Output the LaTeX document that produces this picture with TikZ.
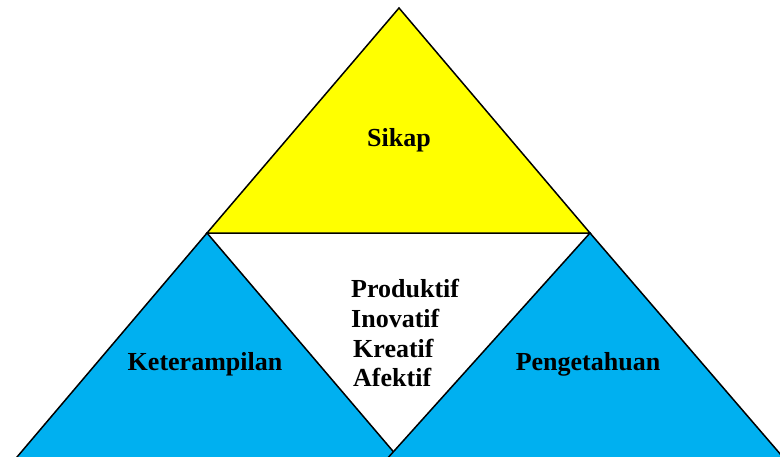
\documentclass[tikz,border=0pt]{standalone}
\usepackage{fontspec}
\setmainfont{Liberation Serif}
\definecolor{skyb}{HTML}{00B0F0}
\definecolor{yel}{HTML}{FFFF00}
\begin{document}
\begin{tikzpicture}[x=1pt,y=-1pt,
  tri/.style={draw=black,line width=1.5pt,line join=miter},
  lbl/.style={font=\fontsize{26}{30}\selectfont\bfseries,inner sep=0pt}]
\useasboundingbox (0,0) rectangle (780,456);
\clip (0,0) rectangle (780,456);
\coordinate (yt) at (399,8);
\coordinate (yl) at (207,233);
\coordinate (yr) at (590,233);
\coordinate (ll) at (6,470);
\coordinate (lr) at (409,470);
\coordinate (rl) at (377,470);
\coordinate (rr) at (794,470);
\fill[white] (0,0) rectangle (780,456);
\draw[tri,fill=skyb] (yl) -- (ll) -- (lr) -- cycle;
\draw[tri,fill=skyb] (yr) -- (rl) -- (rr) -- cycle;
\draw[tri,fill=yel] (yt) -- (yl) -- (yr) -- cycle;
\node[lbl,anchor=base] (sikap) at (399,146) {Sikap};
\node[lbl,anchor=base] (ket) at (205,370) {Keterampilan};
\node[lbl,anchor=base] (pen) at (588,370) {Pengetahuan};
\node[lbl,anchor=base west] (p1) at (351,297) {Produktif};
\node[lbl,anchor=base west] (p2) at (351,327) {Inovatif};
\node[lbl,anchor=base west] (p3) at (353,357) {Kreatif};
\node[lbl,anchor=base west] (p4) at (353,386) {Afektif};
\end{tikzpicture}
\end{document}
